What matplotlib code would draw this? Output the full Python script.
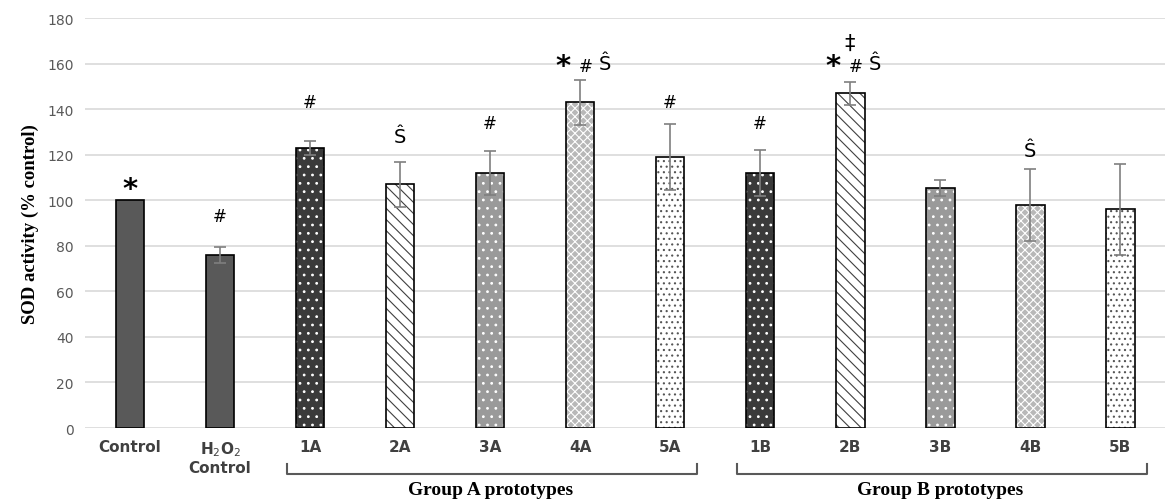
import matplotlib.pyplot as plt
import matplotlib.transforms as mtransforms
import numpy as np

# data
categories = ["Control", "H$_2$O$_2$\nControl", "1A", "2A", "3A", "4A", "5A",
              "1B", "2B", "3B", "4B", "5B"]
sod_mean = [100, 76, 123, 107, 112, 143, 119, 112, 147, 105.5, 98, 96]
sod_err = [0, 3.5, 3, 10, 9.5, 10, 14.5, 10, 5, 3.5, 16, 20]
marks = ["*", "#", "#", "Ŝ", "#", "* # Ŝ", "#", "#", "* # Ŝ", "", "Ŝ", ""]
mark_y = [105, 93, 143, 128, 134, 160, 143, 134, 160, 0, 122, 0]
groups = ["Group A prototypes", "Group B prototypes"]

# fill style per bar: (face, hatch colour, hatch)
styles = [
    ("#595959", None, ""),
    ("#595959", None, ""),
    ("#3a3a3a", "white", ".."),
    ("white", "#404040", "\\\\\\"),
    ("#9a9a9a", "white", ".."),
    ("#b8b8b8", "white", "xxxx"),
    ("white", "#555555", "..."),
    ("#3a3a3a", "white", ".."),
    ("white", "#404040", "\\\\\\"),
    ("#9a9a9a", "white", ".."),
    ("#b8b8b8", "white", "xxxx"),
    ("white", "#555555", "..."),
]

fig = plt.figure(figsize=(11.71, 5.02), dpi=100)
ax = fig.add_axes([0.0726, 0.1454, 0.9224, 0.8162])

x = np.arange(len(categories))
w = 0.32
plt.rcParams['hatch.linewidth'] = 0.8
for i in range(len(categories)):
    face, hc, hatch = styles[i]
    if hatch:
        ax.bar(x[i], sod_mean[i], w, color=face, edgecolor=hc, hatch=hatch,
               linewidth=0, zorder=2)
        ax.bar(x[i], sod_mean[i], w, fill=False, edgecolor="black",
               linewidth=1.2, zorder=3)
    else:
        ax.bar(x[i], sod_mean[i], w, color=face, edgecolor="black",
               linewidth=1.2, zorder=2)

err_x = [x[i] for i in range(len(x)) if sod_err[i] > 0]
err_y = [sod_mean[i] for i in range(len(x)) if sod_err[i] > 0]
err_v = [sod_err[i] for i in range(len(x)) if sod_err[i] > 0]
ax.errorbar(err_x, err_y, yerr=err_v, fmt="none", ecolor="#7f7f7f",
            elinewidth=1.2, capsize=4, capthick=1.2, zorder=4)

for i, m in enumerate(marks):
    if not m:
        continue
    if m == "*":
        ax.text(x[i], mark_y[i], "*", ha="center", va="center", fontsize=21,
                fontweight="bold")
    elif m.startswith("*"):
        ax.text(x[i] - 0.19, mark_y[i] - 1, "*", ha="center", va="center",
                fontsize=21, fontweight="bold")
        ax.text(x[i] + 0.06, mark_y[i] - 1, "#", ha="center", va="center", fontsize=12)
        ax.text(x[i] + 0.28, mark_y[i], "Ŝ", ha="center", va="center", fontsize=14)
    else:
        ax.text(x[i], mark_y[i], m, ha="center", va="center",
                fontsize=14 if m == "Ŝ" else 12)
ax.text(x[8], 169, "‡", ha="center", va="center", fontsize=15)

ax.set_xlim(-0.5, len(categories) - 0.5)
ax.set_ylim(0, 180)
ax.set_yticks(np.arange(0, 181, 20))
ax.set_xticks(x)
ax.set_xticklabels(categories, fontsize=11, fontweight="bold", color="#404040")
ax.tick_params(length=0, pad=8)
ax.tick_params(axis="y", labelsize=10, colors="#595959")
ax.grid(axis="y", color="#d9d9d9", linewidth=1.2, zorder=0)
ax.set_axisbelow(True)
for s in ax.spines.values():
    s.set_visible(False)
ax.set_ylabel("SOD activity (% control)", fontsize=13.5, fontweight="bold",
              fontfamily="Liberation Serif", labelpad=6)

# group brackets under the axis
trans = mtransforms.blended_transform_factory(ax.transData, ax.transAxes)
for g, (a, b) in zip(groups, [(2, 6), (7, 11)]):
    xl, xr = a - 0.26, b + 0.3
    ax.plot([xl, xl, xr, xr], [-0.088, -0.112, -0.112, -0.088], color="#595959",
            linewidth=1.5, transform=trans, clip_on=False)
    ax.text((a + b) / 2, -0.15, g, transform=trans, ha="center", va="center",
            fontsize=14, fontweight="bold", fontfamily="Liberation Serif")

fig.savefig("out.png", dpi=100)
